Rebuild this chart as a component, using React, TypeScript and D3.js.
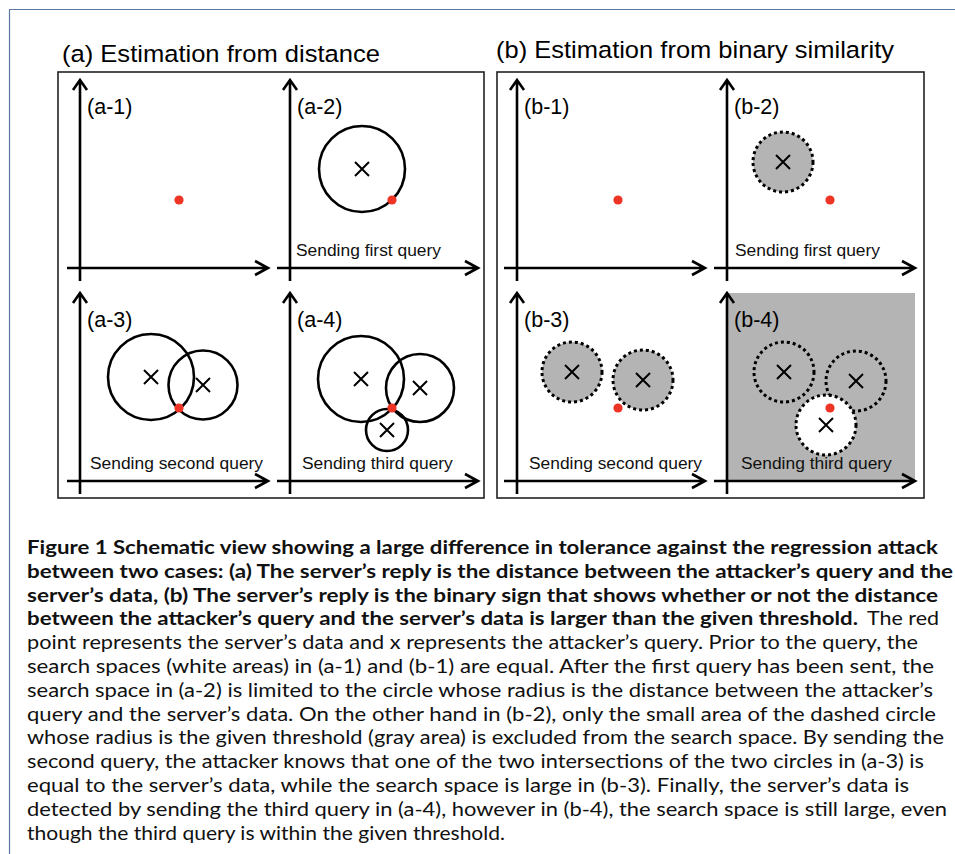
import React from 'react';
import * as d3 from 'd3';

// panels of the schematic
const panelNames = ['a-1', 'a-2', 'a-3', 'a-4', 'b-1', 'b-2', 'b-3', 'b-4'];
// server's data (red point), units measured from the axis origin
const serverX = [99, 102, 99, 102, 101, 103, 101, 103];
const serverY = [68, 68, 73, 73, 68, 68, 73, 73];
// attacker's queries answered with a distance: [panel, cx, cy, r]
const distanceQueries: [string, number, number, number][] = [
  ['a-2', 72, 99, 43],
  ['a-3', 71, 104, 43],
  ['a-3', 123, 96, 34.5],
  ['a-4', 71, 102, 43],
  ['a-4', 130, 93, 34],
  ['a-4', 97, 51, 21],
];
// attacker's queries answered with a binary sign: [panel, cx, cy, threshold, area]
const thresholdQueries: [string, number, number, number, string][] = [
  ['b-2', 56, 106, 30, 'excluded'],
  ['b-3', 55, 109, 30, 'excluded'],
  ['b-3', 126, 101, 30, 'excluded'],
  ['b-4', 57, 109, 30, 'none'],
  ['b-4', 129, 100, 30, 'none'],
  ['b-4', 99, 56, 30, 'search'],
];
const excludedPanels = ['b-4'];
const stepCaptions = ['', 'Sending first query', 'Sending second query', 'Sending third query'];
const groupTitles = ['(a) Estimation from distance', '(b) Estimation from binary similarity'];
const captionLines = [
  'Figure 1 Schematic view showing a large difference in tolerance against the regression attack',
  'between two cases: (a) The server’s reply is the distance between the attacker’s query and the',
  'server’s data, (b) The server’s reply is the binary sign that shows whether or not the distance',
  'between the attacker’s query and the server’s data is larger than the given threshold.|The red',
  'point represents the server’s data and x represents the attacker’s query. Prior to the query, the',
  'search spaces (white areas) in (a-1) and (b-1) are equal. After the first query has been sent, the',
  'search space in (a-2) is limited to the circle whose radius is the distance between the attacker’s',
  'query and the server’s data. On the other hand in (b-2), only the small area of the dashed circle',
  'whose radius is the given threshold (gray area) is excluded from the search space. By sending the',
  'second query, the attacker knows that one of the two intersections of the two circles in (a-3) is',
  'equal to the server’s data, while the search space is large in (b-3). Finally, the server’s data is',
  'detected by sending the third query in (a-4), however in (b-4), the search space is still large, even',
  'though the third query is within the given threshold.',
];

// layout (pixels)
const W = 955;
const H = 854;
const origins: Record<string, [number, number]> = {
  'a-1': [80, 268], 'a-2': [290, 268], 'a-3': [80, 481], 'a-4': [290, 481],
  'b-1': [517, 268], 'b-2': [727, 268], 'b-3': [517, 481], 'b-4': [727, 481],
};
const stepDx = [0, 6, 10, 12, 0, 8, 12, 14];
const captionEnds = [938, 953, 938, 939, 918, 934, 933, 936, 944, 924, 909, 947, 505];
const AXIS = 188;
const FIG_FONT = 'Liberation Sans, Arial, sans-serif';
const RED = '#ee3425';
const GRAY = '#b4b4b4';

const Cross = ({ x, y }: { x: number; y: number }) => (
  <path d={`M${x - 7},${y - 7}L${x + 7},${y + 7}M${x - 7},${y + 7}L${x + 7},${y - 7}`} stroke="#000" strokeWidth={2} />
);

const Panel = ({ name, i }: { name: string; i: number }) => {
  const [ox, oy] = origins[name];
  const x = d3.scaleLinear().domain([0, AXIS]).range([ox, ox + AXIS]);
  const y = d3.scaleLinear().domain([0, AXIS]).range([oy, oy - AXIS]);
  const r = (v: number) => x(v) - x(0);
  const step = i % 4;
  const dq = distanceQueries.filter((d) => d[0] === name);
  const tq = thresholdQueries.filter((d) => d[0] === name);
  const ax = d3.path();
  ax.moveTo(x(-13), y(0)); ax.lineTo(x(AXIS), y(0));
  ax.moveTo(x(AXIS) - 13, y(0) - 7); ax.lineTo(x(AXIS), y(0)); ax.lineTo(x(AXIS) - 13, y(0) + 7);
  ax.moveTo(x(0), y(-13)); ax.lineTo(x(0), y(AXIS));
  ax.moveTo(x(0) - 7, y(AXIS) + 10); ax.lineTo(x(0), y(AXIS)); ax.lineTo(x(0) + 7, y(AXIS) + 10);
  return (
    <g>
      {excludedPanels.includes(name) && (
        <rect x={x(0)} y={y(AXIS)} width={x(AXIS) - x(0)} height={y(0) - y(AXIS)} fill={GRAY} />
      )}
      {dq.map((d, k) => (
        <circle key={k} cx={x(d[1])} cy={y(d[2])} r={r(d[3])} fill="none" stroke="#000" strokeWidth={2.6} />
      ))}
      {tq.map((d, k) => (
        <circle key={k} cx={x(d[1])} cy={y(d[2])} r={r(d[3])}
          fill={d[4] === 'excluded' ? GRAY : d[4] === 'search' ? '#fff' : 'none'}
          stroke="#000" strokeWidth={3} strokeDasharray="3 3" />
      ))}
      <path d={ax.toString()} fill="none" stroke="#000" strokeWidth={2.6} />
      <text x={x(0) + 7} y={y(154)} fontSize={21.5} fontFamily={FIG_FONT}>({name})</text>
      {step > 0 && (
        <text x={x(0) + stepDx[i]} y={y(12)} fontSize={17.4} fontFamily={FIG_FONT} fill="#111">
          {stepCaptions[step]}
        </text>
      )}
      {dq.concat().map((d, k) => <Cross key={'d' + k} x={x(d[1])} y={y(d[2])} />)}
      {tq.map((d, k) => <Cross key={'t' + k} x={x(d[1])} y={y(d[2])} />)}
      <circle cx={x(serverX[i])} cy={y(serverY[i])} r={4.6} fill={RED} />
    </g>
  );
};

const App = () => {
  const lineY = (k: number) => 554 + k * 23.8;
  return (
    <svg width={W} height={H} style={{ position: 'absolute', left: 0, top: 0, background: '#fff' }}>
      <rect width={W} height={H} fill="#fff" />
      <path d={`M9.5,${H}V9.5H${W}`} fill="none" stroke="#5a78a0" strokeWidth={1.2} />
      <text x={62} y={62} fontSize={24.5} fontFamily={FIG_FONT} textLength={318} lengthAdjust="spacingAndGlyphs">
        {groupTitles[0]}
      </text>
      <text x={496} y={58} fontSize={24.5} fontFamily={FIG_FONT} textLength={398} lengthAdjust="spacingAndGlyphs">
        {groupTitles[1]}
      </text>
      <rect x={58} y={72} width={426} height={426} fill="none" stroke="#222" strokeWidth={1.6} />
      <rect x={497} y={72} width={427} height={426} fill="none" stroke="#222" strokeWidth={1.6} />
      {panelNames.map((n, i) => <Panel key={n} name={n} i={i} />)}
      <g fontFamily="Lato, 'Open Sans', sans-serif" fontSize={18.5} fill="#111">
        {captionLines.map((line, k) => {
          const bold = k < 4;
          if (line.includes('|')) {
            const [a, b] = line.split('|');
            return (
              <g key={k}>
                <text x={27} y={lineY(k)} fontWeight="bold" textLength={831} lengthAdjust="spacingAndGlyphs">{a}</text>
                <text x={867} y={lineY(k)} textLength={captionEnds[k] - 867} lengthAdjust="spacingAndGlyphs">{b}</text>
              </g>
            );
          }
          return (
            <text key={k} x={27} y={lineY(k)} fontWeight={bold ? 'bold' : 'normal'}
              textLength={captionEnds[k] - 27} lengthAdjust="spacingAndGlyphs">
              {line}
            </text>
          );
        })}
      </g>
    </svg>
  );
};

export default App;
